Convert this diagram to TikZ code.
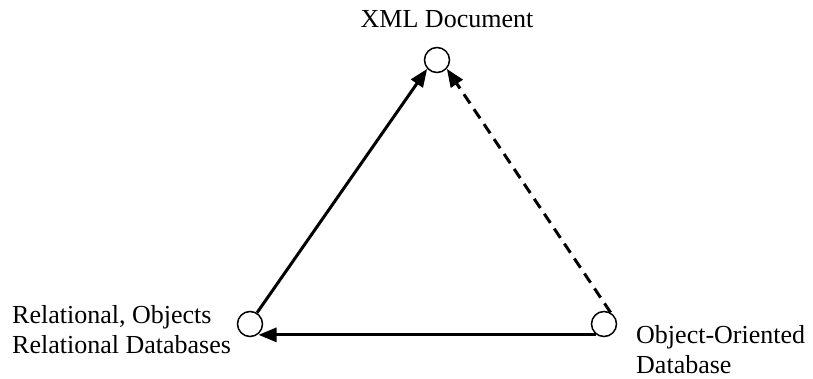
\documentclass[tikz,border=0pt]{standalone}
\usepackage{fontspec}
\setmainfont{Liberation Serif}
\usetikzlibrary{arrows.meta}
\begin{document}
\begin{tikzpicture}[x=1pt,y=-1pt,
  vertex/.style={circle,draw,line width=1.5pt,minimum size=25pt,inner sep=0pt},
  lbl/.style={font=\fontsize{26}{30}\selectfont,inner sep=0pt,align=left},
  conn/.style={line width=3pt,-{Triangle[length=18pt,width=14pt]}},
  dashconn/.style={conn,dash pattern=on 11pt off 7pt}]
\useasboundingbox (0,0) rectangle (813,379);
\node[vertex] (top) at (437,60) {};
\node[vertex] (left) at (250,324) {};
\node[vertex] (right) at (604,324) {};
\node[lbl,anchor=base] (ttop) at (447,28) {XML Document};
\node[lbl,anchor=base west] (tleft) at (12,353) {Relational, Objects\\Relational Databases};
\node[lbl,anchor=base west] (tright) at (636,373) {Object-Oriented\\Database};
\draw[conn] (left.58) -- (top.222);
\draw[dashconn] (right.60) -- (top.318);
\coordinate (hstart) at (right.235);
\draw[conn] (hstart) -- (left.-50 |- hstart);
\end{tikzpicture}
\end{document}
